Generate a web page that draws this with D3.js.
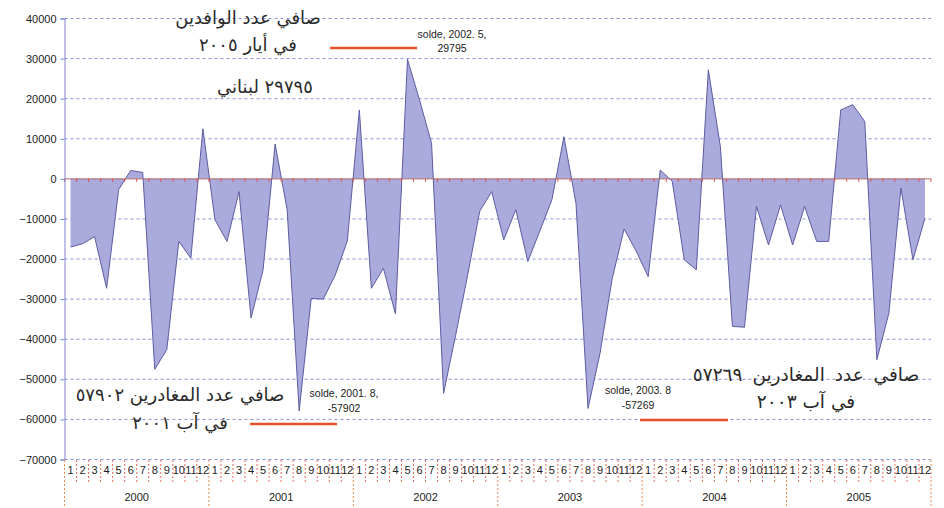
<!DOCTYPE html>
<html>
<head>
<meta charset="utf-8">
<script src="https://cdn.jsdelivr.net/npm/d3@7/dist/d3.min.js"></script>
<style>
  html, body { margin: 0; padding: 0; background: #fff; }
  svg { display: block; }
  .lat { font-family: "Liberation Sans", Arial, sans-serif; fill: #222; }
  .ar { font-family: "DejaVu Sans", "Noto Sans", sans-serif; fill: #2a2a2a; }
</style>
</head>
<body>
<svg id="chart" width="944" height="508"></svg>
<script>
// Monthly net balance (arrivals minus departures), Jan 2000 – Dec 2005
const years = ["2000", "2001", "2002", "2003", "2004", "2005"];
const months = ["1", "2", "3", "4", "5", "6", "7", "8", "9", "10", "11", "12"];
const solde2000 = [-17000, -16200, -14400, -27300, -2700, 2100, 1600, -47500, -42600, -15600, -19800, 12500];
const solde2001 = [-10200, -15600, -3200, -34700, -22700, 8700, -7700, -57902, -29800, -30000, -24000, -15500];
const solde2002 = [17200, -27300, -22300, -33700, 29795, 19700, 8900, -53500, -39000, -24000, -8100, -3200];
const solde2003 = [-15200, -7700, -20600, -13000, -5200, 10500, -6100, -57269, -43500, -25000, -12500, -18000];
const solde2004 = [-24400, 2200, -600, -20200, -22700, 27200, 8000, -36800, -37000, -6900, -16500, -6500];
const solde2005 = [-16500, -6900, -15600, -15600, 17200, 18500, 14300, -45100, -33500, -2300, -20200, -9800];
const solde = [].concat(solde2000, solde2001, solde2002, solde2003, solde2004, solde2005);
const yTicks = [40000, 30000, 20000, 10000, 0, -10000, -20000, -30000, -40000, -50000, -60000, -70000];

const svg = d3.select("#chart");

const x = d3.scaleBand().domain(d3.range(solde.length)).range([64.5, 931]).paddingInner(0).paddingOuter(0);
const cx = i => x(i) + x.bandwidth() / 2;
const y = d3.scaleLinear().domain([-70000, 40000]).range([459.5, 18.5]);

// horizontal grid
svg.append("g").selectAll("line").data(yTicks.filter(t => t !== 0)).join("line")
  .attr("x1", 64.5).attr("x2", 931)
  .attr("y1", d => y(d)).attr("y2", d => y(d))
  .attr("stroke", "#8a8fd8").attr("stroke-width", 1).attr("stroke-dasharray", "3,3");

// area between the series and zero
const area = d3.area().x((d, i) => cx(i)).y0(y(0)).y1(d => y(d));
const line = d3.line().x((d, i) => cx(i)).y(d => y(d));
svg.append("path").datum(solde).attr("d", area).attr("fill", "#aaaadd");
svg.append("path").datum(solde).attr("d", line).attr("fill", "none")
  .attr("stroke", "#5c5ca0").attr("stroke-width", 1);

// zero line with month ticks
svg.append("line").attr("x1", 64.5).attr("x2", 931).attr("y1", y(0)).attr("y2", y(0))
  .attr("stroke", "#b06a6a").attr("stroke-width", 1);
svg.append("g").selectAll("line").data(d3.range(solde.length + 1)).join("line")
  .attr("x1", i => 64.5 + i * x.step()).attr("x2", i => 64.5 + i * x.step())
  .attr("y1", y(0)).attr("y2", y(0) + 3)
  .attr("stroke", "#e05040").attr("stroke-width", 1);

// y axis
const yAxis = d3.axisLeft(y).tickValues(yTicks).tickSize(4).tickFormat(d3.format("d"));
const gy = svg.append("g").attr("transform", "translate(64.5,0)").call(yAxis);
gy.select(".domain").attr("stroke", "#8080d0");
gy.selectAll(".tick line").attr("stroke", "#8080d0");
gy.selectAll(".tick text").attr("class", "lat").attr("font-size", 11).attr("x", -8);

// month labels and separators
const gm = svg.append("g");
gm.selectAll("line").data(d3.range(solde.length + 1)).join("line")
  .attr("x1", i => 64.5 + i * x.step()).attr("x2", i => 64.5 + i * x.step())
  .attr("y1", 460).attr("y2", i => i % 12 === 0 ? 508 : 482)
  .attr("stroke", i => i % 12 === 0 ? "#e88a50" : "#e86a5a")
  .attr("stroke-width", 1).attr("stroke-dasharray", "2,2");
gm.selectAll("text").data(solde).join("text")
  .attr("class", "lat").attr("font-size", 11)
  .attr("x", (d, i) => cx(i)).attr("y", 474).attr("text-anchor", "middle")
  .text((d, i) => months[i % 12]);

// year labels
svg.append("g").selectAll("text").data(years).join("text")
  .attr("class", "lat").attr("font-size", 11)
  .attr("x", (d, k) => 64.5 + (k * 12 + 6) * x.step()).attr("y", 501).attr("text-anchor", "middle")
  .text(d => d);

// annotations
const note = (lines, xc, ys, size, gap) => lines.forEach((t, k) =>
  svg.append("text").attr("class", "ar").attr("direction", "rtl").attr("font-size", size)
    .attr("word-spacing", gap ? gap[k] : 0)
    .attr("x", xc).attr("y", ys[k]).attr("text-anchor", "middle").text(t));
const tag = (lines, xc, ys) => lines.forEach((t, k) =>
  svg.append("text").attr("class", "lat").attr("font-size", 10.5)
    .attr("x", xc).attr("y", ys[k]).attr("text-anchor", "middle").text(t));
const redBar = (x1, x2, yy) => svg.append("line").attr("x1", x1).attr("x2", x2)
  .attr("y1", yy).attr("y2", yy).attr("stroke", "#e8502a").attr("stroke-width", 2.5);

note(["صافي عدد الوافدين", "في أيار ٢٠٠٥"], 248, [24, 51], 18);
note(["٢٩٧٩٥ لبناني"], 265, [93], 18);
tag(["solde, 2002. 5,", "29795"], 452, [38, 52]);
redBar(330, 417, 48);

note(["صافي عدد المغادرين ٥٧٩٠٢", "في آب ٢٠٠١"], 180, [401, 429], 18);
tag(["solde, 2001. 8,", "-57902"], 344, [397, 412]);
redBar(250, 337, 424);

note(["صافي عدد المغادرين ٥٧٢٦٩", "في آب ٢٠٠٣"], 806, [381, 408], 18.5, [4, 0]);
tag(["solde, 2003. 8", "-57269"], 638, [394, 409]);
redBar(640, 728, 420);
</script>
</body>
</html>
